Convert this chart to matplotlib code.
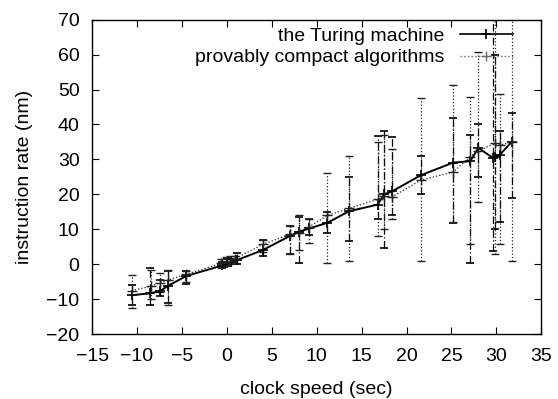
import numpy as np
import matplotlib
matplotlib.use('Agg')
import matplotlib.pyplot as plt
from matplotlib.lines import Line2D

plt.rcParams['font.family'] = ['Liberation Sans', 'DejaVu Sans']

# --- data ---
tm_x = [-10.6, -8.6, -7.4, -6.6, -4.5, -0.5, 0.0, 0.5, 1.1, 4.0, 7.0, 8.0, 9.2,
        11.2, 13.6, 16.8, 17.5, 18.4, 21.6, 25.2, 27.1, 28.0, 29.6, 29.9, 30.4, 31.7]
tm_y = [-8.8, -8.3, -7.6, -6.2, -3.3, -0.3, 0.4, 0.7, 1.2, 4.1, 8.1, 9.3, 10.3,
        11.9, 15.2, 17.1, 20.0, 20.9, 25.5, 29.1, 29.5, 33.3, 30.5, 30.8, 31.4, 35.0]
tm_lo = [-11.5, -11.7, -9.0, -11.0, -5.5, -1.0, -0.5, 0.0, 0.2, 2.5, 3.0, 0.5, 8.5,
         9.0, 6.7, 12.9, 4.8, 14.0, 20.0, 11.9, 0.5, 25.0, 3.8, 10.0, 12.0, 18.9]
tm_hi = [-6.0, -1.0, -4.5, -2.0, -2.0, 0.8, 1.5, 1.5, 3.3, 7.0, 11.0, 13.5, 13.0,
         15.0, 25.0, 36.7, 38.0, 36.5, 31.0, 41.9, 36.9, 40.0, 72.0, 60.0, 38.0, 43.4]

pc_x = [-10.6, -8.4, -7.4, -6.6, -4.5, -0.6, -0.1, 0.4, 0.9, 4.0, 7.0, 8.0, 9.2,
        11.2, 13.6, 16.8, 17.5, 18.4, 21.6, 25.2, 27.1, 28.0, 29.8, 30.4, 31.7]
pc_y = [-7.5, -6.2, -5.2, -4.5, -2.8, 0.3, 0.8, 1.1, 1.6, 5.7, 8.6, 9.0, 10.8,
        14.0, 16.0, 18.6, 19.5, 19.3, 24.1, 26.4, 30.8, 32.4, 34.6, 34.1, 35.0]
pc_lo = [-12.5, -10.0, -8.0, -11.5, -5.0, -0.8, -0.3, 0.2, 0.5, 3.5, 3.0, 4.0, 6.0,
         0.5, 1.0, 8.0, 10.0, 13.0, 1.0, 12.0, 5.7, 17.7, 3.0, 5.7, 0.9]
pc_hi = [-3.0, -1.5, -2.5, -1.5, -1.8, 1.5, 2.0, 2.5, 2.5, 7.0, 11.0, 14.0, 13.0,
         26.0, 31.0, 35.0, 37.0, 33.0, 47.5, 51.4, 48.0, 60.7, 72.0, 48.6, 72.0]

x_ticks = [-15, -10, -5, 0, 5, 10, 15, 20, 25, 30, 35]
y_ticks = [-20, -10, 0, 10, 20, 30, 40, 50, 60, 70]


def errs(y, lo, hi):
    y = np.array(y)
    return [y - np.array(lo), np.array(hi) - y]


FS = 14

fig = plt.figure(figsize=(5.58, 3.99), dpi=100)
ax = fig.add_axes([0.165, 0.162, 0.805, 0.789])

eb1 = ax.errorbar(tm_x, tm_y, yerr=errs(tm_y, tm_lo, tm_hi), color='black',
                  lw=1.4, marker='+', ms=7, mew=1.2, capsize=3, elinewidth=0.9)
eb1[2][0].set_linestyle((0, (6, 2, 1, 2)))

eb2 = ax.errorbar(pc_x, pc_y, yerr=errs(pc_y, pc_lo, pc_hi), color='#222222',
                  lw=0.9, ls=':', marker='+', ms=7, mew=1.0, capsize=3,
                  elinewidth=0.9)
eb2[2][0].set_linestyle(':')

ax.set_xlim(-15, 35)
ax.set_ylim(-20, 70)
ax.set_xticks(x_ticks)
ax.set_yticks(y_ticks)
ax.tick_params(direction='in', length=5, top=True, right=True, labelsize=FS)
ax.tick_params(axis='x', pad=10)
ax.tick_params(axis='y', pad=9)
for s in ax.spines.values():
    s.set_linewidth(1.0)

ax.set_xlabel('clock speed (sec)', fontsize=FS, labelpad=11)
ax.set_ylabel('instruction rate (nm)', fontsize=FS, labelpad=10)

handles = [Line2D([], [], color='black', lw=1.2, marker='+', ms=7, mew=1.2),
           Line2D([], [], color='#666666', lw=1.0, ls=':', marker='+', ms=7, mew=1.0)]
leg = ax.legend(handles, ['the Turing machine', 'provably compact algorithms'],
                loc='upper right', bbox_to_anchor=(0.949, 0.994), frameon=False,
                fontsize=FS, markerfirst=False, handlelength=2.7,
                borderaxespad=0, borderpad=0.3, labelspacing=0.2,
                handletextpad=0.8)
for t in leg.get_texts():
    t.set_ha('right')

plt.savefig('out.png', dpi=100)
plt.close()
